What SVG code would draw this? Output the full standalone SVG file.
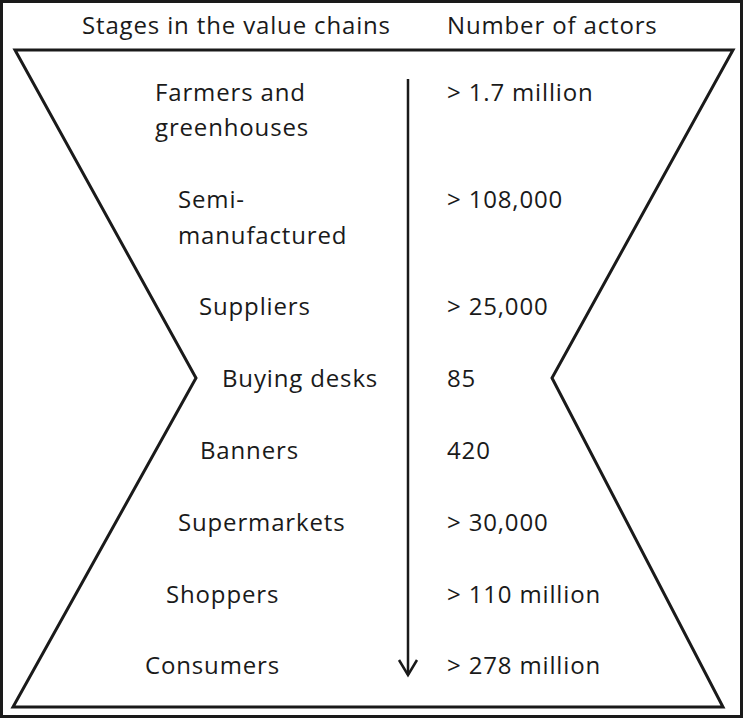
<svg xmlns="http://www.w3.org/2000/svg" width="743" height="718" viewBox="0 0 743 718">
<style>
text{font-family:"Open Sans","Liberation Sans",sans-serif;font-size:24px;letter-spacing:0.85px;fill:#1a1a1a}
.ln{fill:none;stroke:#1a1a1a;stroke-width:3}
</style>
<defs>
<marker id="ah" markerWidth="20" markerHeight="24" refX="17" refY="10" orient="auto" markerUnits="userSpaceOnUse" viewBox="0 0 20 20">
<path d="M2,1 L17,10 L2,19" fill="none" stroke="#1a1a1a" stroke-width="2.5"/>
</marker>
</defs>
<rect x="1.5" y="1.5" width="740" height="715" fill="#fff" stroke="#1a1a1a" stroke-width="3"/>
<g id="hourglass">
<path class="ln" d="M15,50 L733,50 L552,378 L723,707 L13,707 L196,378 Z" stroke-linejoin="miter"/>
</g>
<g id="connectors">
<line x1="408" y1="79" x2="408" y2="675" stroke="#1a1a1a" stroke-width="2.5" marker-end="url(#ah)"/>
</g>
<g id="headers">
<text x="82" y="34">Stages in the value chains</text>
<text x="447" y="34">Number of actors</text>
</g>
<g id="farmers"><text x="155" y="101">Farmers and</text><text x="155" y="136">greenhouses</text><text x="447" y="101">&gt; 1.7 million</text></g>
<g id="semi"><text x="178" y="208">Semi-</text><text x="178" y="244">manufactured</text><text x="447" y="208">&gt; 108,000</text></g>
<g id="suppliers"><text x="199" y="315">Suppliers</text><text x="447" y="315">&gt; 25,000</text></g>
<g id="buying"><text x="222" y="387">Buying desks</text><text x="447" y="387">85</text></g>
<g id="banners"><text x="200" y="459">Banners</text><text x="447" y="459">420</text></g>
<g id="supermarkets"><text x="178" y="531">Supermarkets</text><text x="447" y="531">&gt; 30,000</text></g>
<g id="shoppers"><text x="166" y="603">Shoppers</text><text x="447" y="603">&gt; 110 million</text></g>
<g id="consumers"><text x="145" y="674">Consumers</text><text x="447" y="674">&gt; 278 million</text></g>
</svg>
